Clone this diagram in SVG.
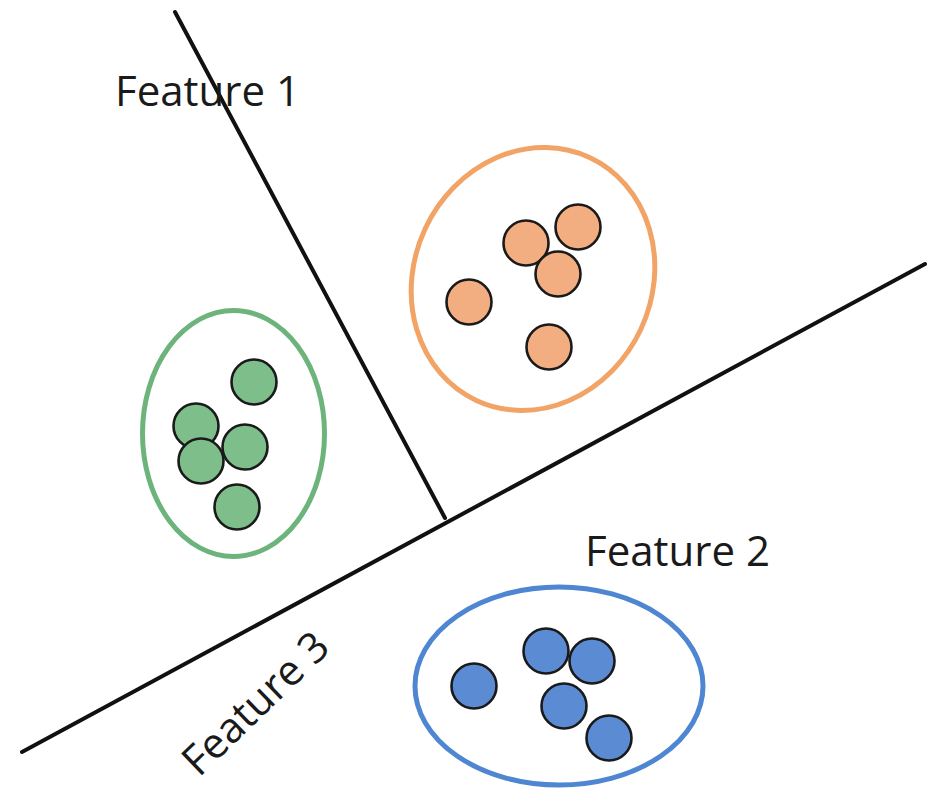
<svg xmlns="http://www.w3.org/2000/svg" width="931" height="791" viewBox="0 0 931 791">
<style>
.bg{fill:#ffffff}
.axis{stroke:#111;stroke-width:4;fill:none;stroke-linecap:round}
.lbl{font-family:"Open Sans","Liberation Sans",sans-serif;font-size:42px;fill:#1a1a1a}
.pt{stroke:#1a1a1a;stroke-width:2.6}
.o{fill:#F2AE80}
.g{fill:#7DBE8B}
.b{fill:#5A8BD3}
.ring{fill:none;stroke-width:5}
</style>
<rect class="bg" x="0" y="0" width="931" height="791"/>
<g id="connectors">
<line class="axis" x1="175" y1="12" x2="445" y2="518"/>
<line class="axis" x1="22" y1="752" x2="925" y2="264"/>
</g>
<g id="label-feature1"><text class="lbl" x="115" y="106">Feature 1</text></g>
<g id="label-feature2"><text class="lbl" x="585" y="566">Feature 2</text></g>
<g id="label-feature3"><text class="lbl" font-size="41" transform="translate(199,778) rotate(-44)">Feature 3</text></g>
<g id="cluster-orange">
<ellipse class="ring" stroke="#F2A366" cx="533" cy="279" rx="119" ry="134" transform="rotate(25 533 279)"/>
<circle class="pt o" cx="526" cy="243" r="22.5"/>
<circle class="pt o" cx="578" cy="227" r="22.5"/>
<circle class="pt o" cx="558" cy="274" r="22.5"/>
<circle class="pt o" cx="469" cy="302" r="22.5"/>
<circle class="pt o" cx="549" cy="347" r="22.5"/>
</g>
<g id="cluster-green">
<ellipse class="ring" stroke="#6DB47C" cx="233.5" cy="433.5" rx="91" ry="123"/>
<circle class="pt g" cx="254" cy="382" r="22.5"/>
<circle class="pt g" cx="196" cy="426" r="22.5"/>
<circle class="pt g" cx="245" cy="447" r="22.5"/>
<circle class="pt g" cx="201" cy="461" r="22.5"/>
<circle class="pt g" cx="237" cy="507" r="22.5"/>
</g>
<g id="cluster-blue">
<ellipse class="ring" stroke="#4F86D2" cx="559" cy="686" rx="144" ry="99"/>
<circle class="pt b" cx="474" cy="686" r="22.5"/>
<circle class="pt b" cx="546" cy="651" r="22.5"/>
<circle class="pt b" cx="592" cy="661" r="22.5"/>
<circle class="pt b" cx="564" cy="706" r="22.5"/>
<circle class="pt b" cx="609" cy="738" r="22.5"/>
</g>
</svg>
